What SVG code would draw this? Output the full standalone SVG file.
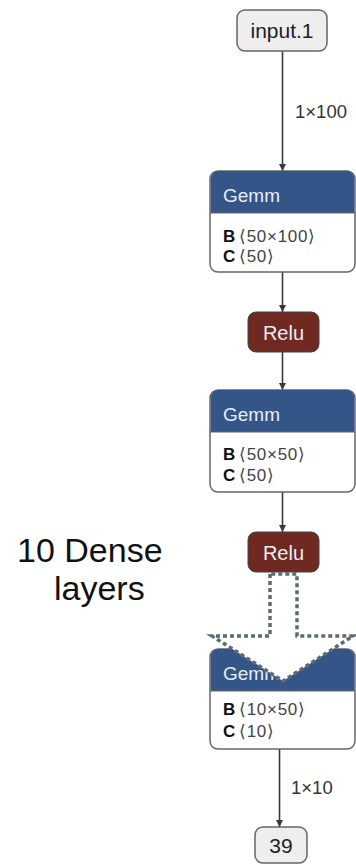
<svg xmlns="http://www.w3.org/2000/svg" width="356" height="865" viewBox="0 0 356 865">
<style>
.io rect{fill:#eeeeee;stroke:#666;stroke-width:1.5}
.io text{font-family:"Liberation Sans",Arial,sans-serif;font-size:21px;fill:#222;text-anchor:middle}
.frame{fill:#fff;stroke:#666;stroke-width:1.5}
.hdr{fill:#335588}
.relu rect{fill:#702921;stroke:#444;stroke-width:1}
.title{font-family:"Liberation Sans",Arial,sans-serif;font-size:19px;fill:#e6edf7}
.relu text{text-anchor:middle;font-size:20px}
.attr{font-family:"Liberation Sans",Arial,sans-serif;font-size:17px;fill:#444}
.attr tspan.k{font-weight:bold;fill:#111}
.attr tspan.v{letter-spacing:0.7px}
.edge{stroke:#3a3a3a;stroke-width:1.6;fill:none}
.elabel{font-family:"Liberation Sans",Arial,sans-serif;font-size:18.5px;fill:#333}
.big{font-family:"Liberation Sans",Arial,sans-serif;font-size:34px;fill:#111}
</style>
<defs>
<marker id="ah" viewBox="0 0 10 10" refX="10" refY="5" markerWidth="7" markerHeight="7" markerUnits="userSpaceOnUse" orient="auto">
<path d="M0,0 L10,5 L0,10 z" fill="#3a3a3a"/>
</marker>
</defs>

<g id="connectors">
<line class="edge" x1="282.5" y1="51" x2="282.5" y2="171" marker-end="url(#ah)"/>
<text class="elabel" x="295" y="118">1×100</text>
<line class="edge" x1="282.5" y1="272" x2="282.5" y2="312" marker-end="url(#ah)"/>
<line class="edge" x1="282.5" y1="352" x2="282.5" y2="390" marker-end="url(#ah)"/>
<line class="edge" x1="282.5" y1="492" x2="282.5" y2="532" marker-end="url(#ah)"/>
<line class="edge" x1="279.5" y1="749" x2="279.5" y2="827" marker-end="url(#ah)"/>
<text class="elabel" x="291" y="794">1×10</text>
</g>

<g id="input1" class="io">
<rect x="237" y="10" width="90" height="41" rx="8"/>
<text x="282" y="38">input.1</text>
</g>

<g id="gemm1">
<rect class="frame" x="210" y="171" width="145" height="101" rx="8"/>
<path class="hdr" d="M210.75,213 V179 a8,8 0 0 1 8,-8 H346.25 a8,8 0 0 1 8,8 V213 z"/>
<line x1="210" y1="213" x2="355" y2="213" stroke="#666" stroke-width="1"/>
<text class="title" x="223" y="202">Gemm</text>
<text class="attr" x="223" y="242"><tspan class="k">B</tspan><tspan class="v" x="239">⟨50×100⟩</tspan></text>
<text class="attr" x="223" y="262"><tspan class="k">C</tspan><tspan class="v" x="239">⟨50⟩</tspan></text>
</g>

<g id="relu1" class="relu">
<rect x="248" y="312" width="71" height="40" rx="8"/>
<text class="title" x="283.5" y="340">Relu</text>
</g>

<g id="gemm2">
<rect class="frame" x="210" y="390" width="145" height="102" rx="8"/>
<path class="hdr" d="M210.75,432 V398 a8,8 0 0 1 8,-8 H346.25 a8,8 0 0 1 8,8 V432 z"/>
<line x1="210" y1="432" x2="355" y2="432" stroke="#666" stroke-width="1"/>
<text class="title" x="223" y="421">Gemm</text>
<text class="attr" x="223" y="460"><tspan class="k">B</tspan><tspan class="v" x="239">⟨50×50⟩</tspan></text>
<text class="attr" x="223" y="481"><tspan class="k">C</tspan><tspan class="v" x="239">⟨50⟩</tspan></text>
</g>

<g id="relu2" class="relu">
<rect x="248" y="532" width="71" height="40" rx="8"/>
<text class="title" x="283.5" y="560">Relu</text>
</g>

<g id="gemm3">
<rect class="frame" x="210" y="649" width="145" height="100" rx="8"/>
<path class="hdr" d="M210.75,691 V657 a8,8 0 0 1 8,-8 H346.25 a8,8 0 0 1 8,8 V691 z"/>
<line x1="210" y1="691" x2="355" y2="691" stroke="#666" stroke-width="1"/>
<text class="title" x="223" y="680">Gemm</text>
<text class="attr" x="223" y="715"><tspan class="k">B</tspan><tspan class="v" x="239">⟨10×50⟩</tspan></text>
<text class="attr" x="223" y="737"><tspan class="k">C</tspan><tspan class="v" x="239">⟨10⟩</tspan></text>
</g>

<g id="output39" class="io">
<rect x="255" y="827" width="52" height="36" rx="8"/>
<text x="281" y="853">39</text>
</g>

<g id="skip-arrow">
<polygon points="270,574 270,636 212,636 283,681 353,636 297,636 297,574" fill="#fff" stroke="#5b6b76" stroke-width="3.5" stroke-dasharray="4,3"/>
</g>

<g id="label">
<text class="big" x="17" y="562">10 Dense</text>
<text class="big" x="54" y="600">layers</text>
</g>
</svg>
